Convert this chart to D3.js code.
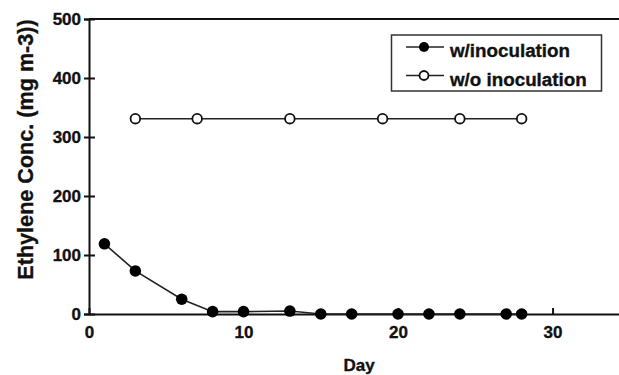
<!DOCTYPE html>
<html>
<head>
<meta charset="utf-8">
<script src="https://cdn.jsdelivr.net/npm/d3@7"></script>
<style>
  html, body { margin: 0; padding: 0; background: #fff; }
  svg { display: block; }
</style>
</head>
<body>
<svg id="chart"></svg>
<script>
// data
const daysWith   = [1, 3, 6, 8, 10, 13, 15, 17, 20, 22, 24, 27, 28];
const concWith   = [119, 73, 25, 4, 4, 5, 0, 0, 0, 0, 0, 0, 0];
const daysWithout = [3, 7, 13, 19, 24, 28];
const concWithout = [331, 331, 331, 331, 331, 331];
const xTicks = [0, 10, 20, 30];
const yTicks = [0, 100, 200, 300, 400, 500];
const seriesNames = ['w/inoculation', 'w/o inoculation'];

const W = 619, H = 375;
const M = { left: 89, top: 19, bottom: 61 };
const FONT = 'Liberation Sans, Arial, Helvetica, sans-serif';
const INK = '#111';

const svg = d3.select('#chart').attr('width', W).attr('height', H);

const x = d3.scaleLinear().domain([0, 34.3]).range([M.left, W]);
const y = d3.scaleLinear().domain([0, 500]).range([H - M.bottom, M.top]);

// bold text, a touch heavier like the scanned figure
function boldText(sel, size) {
  sel.attr('font-family', FONT).attr('font-size', size + 'px').attr('font-weight', 'bold')
    .attr('fill', INK).attr('stroke', INK).attr('stroke-width', 0.35);
}

// frame: top line only (right side is cut off)
svg.append('line')
  .attr('x1', M.left).attr('x2', W).attr('y1', y(500)).attr('y2', y(500))
  .attr('stroke', INK).attr('stroke-width', 2);

// y axis, ticks cross the axis line
const yAxis = svg.append('g').attr('transform', `translate(${M.left},0)`)
  .call(d3.axisLeft(y).tickValues(yTicks).tickSize(5).tickPadding(3).tickFormat(d3.format('d')));
yAxis.select('.domain').attr('stroke', INK).attr('stroke-width', 2);
yAxis.selectAll('.tick line').attr('x1', 6).attr('stroke', INK).attr('stroke-width', 2);
yAxis.selectAll('.tick text').call(boldText, 17);

// x axis, ticks inward
const xAxis = svg.append('g').attr('transform', `translate(0,${y(0)})`)
  .call(d3.axisBottom(x).tickValues(xTicks).tickSizeInner(-6).tickSizeOuter(0).tickPadding(12));
xAxis.select('.domain').attr('stroke', INK).attr('stroke-width', 2);
xAxis.selectAll('.tick line').attr('stroke', INK).attr('stroke-width', 2);
xAxis.selectAll('.tick text').call(boldText, 17);

// axis titles
svg.append('text')
  .attr('transform', 'translate(33,149.5) rotate(-90)')
  .attr('text-anchor', 'middle')
  .call(boldText, 21.6)
  .text('Ethylene Conc. (mg m-3))');

svg.append('text')
  .attr('x', 359).attr('y', 371)
  .attr('text-anchor', 'middle')
  .call(boldText, 17)
  .text('Day');

const line = d3.line().x(d => x(d[0])).y(d => y(d[1]));

// w/o inoculation (open circles)
const ptsWithout = daysWithout.map((d, i) => [d, concWithout[i]]);
svg.append('path').datum(ptsWithout)
  .attr('d', line).attr('fill', 'none').attr('stroke', '#222').attr('stroke-width', 1.6);
svg.selectAll('.open').data(ptsWithout).join('circle')
  .attr('class', 'open')
  .attr('cx', d => x(d[0])).attr('cy', d => y(d[1])).attr('r', 4.8)
  .attr('fill', '#fff').attr('stroke', INK).attr('stroke-width', 1.8);

// w/inoculation (filled circles)
const ptsWith = daysWith.map((d, i) => [d, concWith[i]]);
svg.append('path').datum(ptsWith)
  .attr('d', line).attr('fill', 'none').attr('stroke', '#222').attr('stroke-width', 1.6);
svg.selectAll('.fill').data(ptsWith).join('circle')
  .attr('class', 'fill')
  .attr('cx', d => x(d[0])).attr('cy', d => y(d[1])).attr('r', 5.8)
  .attr('fill', '#000');

// legend
const leg = svg.append('g');
leg.append('rect')
  .attr('x', 391.5).attr('y', 35).attr('width', 210).attr('height', 56)
  .attr('fill', '#fff').attr('stroke', '#333').attr('stroke-width', 1.5);
seriesNames.forEach((name, i) => {
  const cy = 47 + i * 28.5;
  leg.append('line').attr('x1', 406).attr('x2', 444).attr('y1', cy).attr('y2', cy)
    .attr('stroke', '#222').attr('stroke-width', 1.6);
  leg.append('circle').attr('cx', 424).attr('cy', cy)
    .attr('r', i === 0 ? 5 : 4.5)
    .attr('fill', i === 0 ? '#000' : '#fff')
    .attr('stroke', INK).attr('stroke-width', i === 0 ? 0 : 1.8);
  leg.append('text')
    .attr('x', 450).attr('y', cy + 10)
    .call(boldText, 18.8)
    .text(name);
});
</script>
</body>
</html>
